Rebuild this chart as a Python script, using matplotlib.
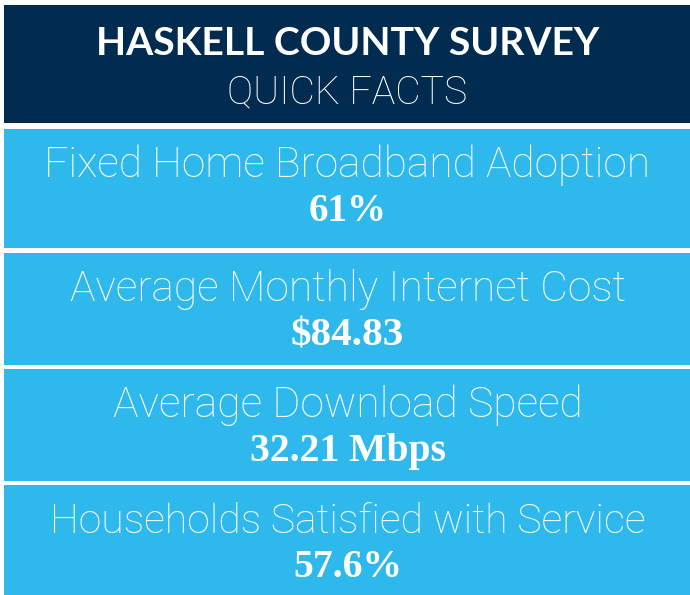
import matplotlib
matplotlib.use("Agg")
import matplotlib.pyplot as plt
from matplotlib.patches import Rectangle

# ---- data ----
title_main = "HASKELL COUNTY SURVEY"
title_sub = "QUICK FACTS"
labels = [
    "Fixed Home Broadband Adoption",
    "Average Monthly Internet Cost",
    "Average Download Speed",
    "Households Satisfied with Service",
]
values = [61, 84.83, 32.21, 57.6]
value_fmt = ["{:g}%", "\\${:.2f}", "{:.2f} Mbps", "{:.1f}%"]

# ---- layout / style ----
W, H = 690, 595
NAVY = "#022B50"
BLUE = "#2EB8EB"
left = 3.5
header = (5, 122.5)
box_tops = [129, 253, 369, 485]
box_bots = [248, 365, 481, 595]
cx = 347.5
label_w = [607, 557, 471, 597]
value_w = [78, 113, 196, 109]

fig = plt.figure(figsize=(W / 100, H / 100), dpi=100)
fig.patch.set_facecolor("white")
ax = fig.add_axes([0, 0, 1, 1])
ax.set_xlim(0, W)
ax.set_ylim(H, 0)
ax.axis("off")

ax.add_patch(Rectangle((left, header[0]), W - left, header[1] - header[0],
                       facecolor=NAVY, edgecolor="none"))
for t, b in zip(box_tops, box_bots):
    ax.add_patch(Rectangle((left, t), W - left, b - t, facecolor=BLUE, edgecolor="none"))

texts = []


def fit_text(x, y, s, target, **kw):
    t = ax.text(x, y, s, ha="center", va="baseline", color="white", fontsize=20, **kw)
    texts.append((t, target))
    return t


fit_text(cx, 55, title_main, 503, family="Lato", fontweight="bold")
fit_text(cx, 103, title_sub, 240, family="Roboto", fontweight="light")
for i, (lab, v, f) in enumerate(zip(labels, values, value_fmt)):
    top = box_tops[i]
    fit_text(cx, top + 48, lab, label_w[i], family="Roboto", fontweight="light")
    fit_text(cx, top + 92, f.format(v), value_w[i], family="Liberation Serif",
             fontweight="bold")

fig.canvas.draw()
r = fig.canvas.get_renderer()
for t, target in texts:
    w = t.get_window_extent(r).width
    t.set_fontsize(20 * target / w)

fig.savefig("out.png", dpi=100, facecolor="white")
